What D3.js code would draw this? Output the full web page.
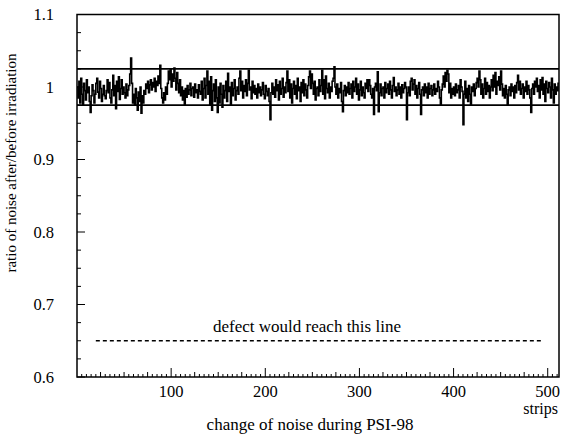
<!DOCTYPE html>
<html>
<head>
<meta charset="utf-8">
<script src="https://cdn.jsdelivr.net/npm/d3@7"></script>
<style>
  body { margin: 0; background: #fff; }
  svg text { font-family: "Liberation Serif", "DejaVu Serif", serif; fill: #000; }
</style>
</head>
<body>
<svg id="chart" width="572" height="436"></svg>
<script>
// ratio of noise after/before irradiation per strip, in 1/1000
const ratioPermille = [
  1000, 985, 1008, 978, 1012, 990, 975, 1005, 995, 982,
  1010, 992, 1000, 980, 965, 988, 1003, 995, 978, 990,
  1005, 1012, 993, 985, 1008, 998, 980, 990, 1002, 988,
  984, 995, 1010, 992, 1006, 985, 978, 996, 1016, 988,
  1002, 970, 1008, 994, 1014, 983, 998, 1010, 990, 1000,
  992, 985, 1004, 988, 996, 1002, 1018, 1040, 1005, 978,
  990, 975, 998, 985, 968, 993, 980, 1000, 964, 988,
  978, 995, 990, 1004, 998, 1008, 992, 1003, 1010, 996,
  1006, 1000, 1012, 994, 1008, 1002, 1015, 1005, 1030, 998,
  985, 978, 992, 982, 1000, 990, 1005, 1022, 1010, 1024,
  1000, 1018, 1008, 1026, 1012, 996, 1020, 1005, 992, 1010,
  988, 1000, 982, 995, 975, 998, 986, 1002, 990, 996,
  1005, 988, 998, 1000, 986, 1004, 992, 996, 985, 1003,
  994, 990, 1008, 982, 998, 1012, 985, 1002, 1022, 990,
  1008, 975, 1014, 968, 995, 1004, 980, 1010, 985, 965,
  1000, 978, 1005, 990, 972, 1002, 985, 995, 1008, 980,
  1019, 994, 1000, 975, 1006, 988, 998, 1010, 982, 995,
  1000, 990, 1012, 1022, 995, 1008, 985, 1002, 994, 1010,
  988, 1005, 1023, 996, 1000, 984, 1008, 992, 1002, 990,
  998, 985, 1004, 992, 1000, 988, 996, 1006, 990, 984,
  1002, 994, 988, 998, 980, 955, 992, 1005, 990, 1000,
  986, 1010, 995, 1003, 982, 1008, 990, 998, 1012, 986,
  1000, 992, 1006, 1022, 994, 1010, 985, 1004, 978, 998,
  1008, 990, 1002, 984, 1012, 995, 1000, 980, 1006, 992,
  1010, 988, 1004, 996, 985, 1002, 1014, 1022, 998, 1018,
  1005, 990, 1008, 982, 998, 1000, 988, 1010, 994, 1002,
  1023, 990, 1010, 984, 1015, 998, 992, 1005, 985, 1000,
  994, 1008, 1012, 1028, 1000, 990, 1004, 985, 998, 992,
  1006, 980, 966, 995, 1002, 988, 1000, 992, 1006, 990,
  998, 1004, 985, 1008, 994, 1000, 1012, 990, 1004, 982,
  996, 1008, 988, 1000, 992, 985, 1005, 998, 1010, 994,
  1010, 1002, 990, 985, 998, 962, 1000, 1005, 995, 1021,
  966, 992, 1004, 988, 998, 1000, 985, 1006, 992, 998,
  1004, 990, 1008, 996, 985, 1002, 1013, 994, 1000, 988,
  996, 1005, 990, 1000, 985, 1003, 992, 998, 1006, 1000,
  955, 992, 1000, 988, 1008, 1012, 996, 1004, 1010, 990,
  1002, 985, 998, 1006, 990, 962, 996, 1000, 988, 1004,
  992, 1000, 985, 1005, 990, 998, 1002, 988, 996, 1004,
  990, 998, 994, 1008, 1000, 985, 975, 996, 1004, 1015,
  1000, 1020, 1008, 1023, 1018, 992, 1005, 985, 998, 990,
  1000, 988, 1004, 992, 996, 1002, 985, 1010, 1000, 994,
  948, 990, 1008, 985, 998, 980, 1002, 990, 975, 1000,
  994, 1004, 988, 998, 1006, 1012, 1000, 1022, 1010, 990,
  1004, 985, 998, 1012, 990, 1006, 994, 1002, 985, 1000,
  1010, 995, 1016, 1000, 1020, 990, 1008, 1002, 1014, 996,
  1022, 1004, 988, 998, 985, 1002, 990, 975, 996, 1000,
  988, 1004, 994, 1000, 985, 1002, 992, 1006, 1016, 996,
  1008, 990, 998, 1004, 985, 1000, 994, 1008, 990, 1002,
  996, 985, 965, 998, 1004, 990, 1008, 1000, 1012, 994,
  1002, 985, 1010, 996, 1013, 990, 1004, 980, 1008, 998,
  992, 1006, 1000, 985, 1012, 996, 978, 1004, 990, 1000,
  995, 1005
];
const bandLimits = [0.975, 1.025];
const defectLevel = 0.65;
const defectRange = [20, 495];
const xTickValues = [100, 200, 300, 400, 500];
const yTickValues = [0.6, 0.7, 0.8, 0.9, 1, 1.1];

const svg = d3.select("#chart");
const plotLeft = 77, plotRight = 559, plotTop = 14.5, plotBottom = 377;

const x = d3.scaleLinear().domain([0, 512]).range([plotLeft, plotRight]);
const y = d3.scaleLinear().domain([0.6, 1.1]).range([plotBottom, plotTop]);

// step histogram
const pts = ratioPermille.map((v, i) => [i, v / 1000]);
pts.push([ratioPermille.length, ratioPermille[ratioPermille.length - 1] / 1000]);
const line = d3.line().x(d => x(d[0])).y(d => y(d[1])).curve(d3.curveStepAfter);

svg.append("path")
    .datum(pts)
    .attr("d", line)
    .attr("fill", "none")
    .attr("stroke", "#000")
    .attr("stroke-width", 1.6);

// band lines
svg.selectAll(".band")
    .data(bandLimits)
    .enter()
    .append("line")
    .attr("x1", plotLeft).attr("x2", plotRight)
    .attr("y1", d => y(d)).attr("y2", d => y(d))
    .attr("stroke", "#000")
    .attr("stroke-width", 1.7);

// defect line
svg.append("line")
    .attr("x1", x(defectRange[0])).attr("x2", x(defectRange[1]))
    .attr("y1", y(defectLevel)).attr("y2", y(defectLevel))
    .attr("stroke", "#000")
    .attr("stroke-width", 1.3)
    .attr("stroke-dasharray", "4,3");

svg.append("text")
    .attr("x", 307).attr("y", 332)
    .attr("text-anchor", "middle")
    .style("font-size", "17px")
    .text("defect would reach this line");

// frame
svg.append("rect")
    .attr("x", plotLeft).attr("y", plotTop)
    .attr("width", plotRight - plotLeft).attr("height", plotBottom - plotTop)
    .attr("fill", "none")
    .attr("stroke", "#000")
    .attr("stroke-width", 1.5);

// x ticks (inward)
const xt = d3.range(5, 512, 5);
svg.selectAll(".xt")
    .data(xt)
    .enter()
    .append("line")
    .attr("x1", d => x(d)).attr("x2", d => x(d))
    .attr("y1", plotBottom)
    .attr("y2", d => plotBottom - (d % 100 === 0 ? 9 : d % 25 === 0 ? 5 : 3))
    .attr("stroke", "#000")
    .attr("stroke-width", 1);

svg.selectAll(".xl")
    .data(xTickValues)
    .enter()
    .append("text")
    .attr("x", d => x(d)).attr("y", 397)
    .attr("text-anchor", "middle")
    .style("font-size", "16.5px")
    .text(d => d);

// y ticks (inward)
const yt = d3.range(0, 21).map(i => 0.6 + i * 0.025);
svg.selectAll(".yt")
    .data(yt)
    .enter()
    .append("line")
    .attr("x1", plotLeft)
    .attr("x2", (d, i) => plotLeft + (i % 4 === 0 ? 8 : 4))
    .attr("y1", d => y(d)).attr("y2", d => y(d))
    .attr("stroke", "#000")
    .attr("stroke-width", 1);

svg.selectAll(".yl")
    .data(yTickValues)
    .enter()
    .append("text")
    .attr("x", 54).attr("y", d => y(d))
    .attr("dy", "0.35em")
    .attr("text-anchor", "end")
    .style("font-size", "16.5px")
    .text(d => d3.format("")(d));

// axis titles
svg.append("text")
    .attr("x", 558).attr("y", 414)
    .attr("text-anchor", "end")
    .style("font-size", "16px")
    .text("strips");

svg.append("text")
    .attr("x", 310).attr("y", 430)
    .attr("text-anchor", "middle")
    .style("font-size", "17px")
    .text("change of noise during PSI-98");

svg.append("text")
    .attr("transform", "translate(16,163) rotate(-90)")
    .attr("text-anchor", "middle")
    .style("font-size", "15px")
    .text("ratio of noise after/before irradiation");
</script>
</body>
</html>
